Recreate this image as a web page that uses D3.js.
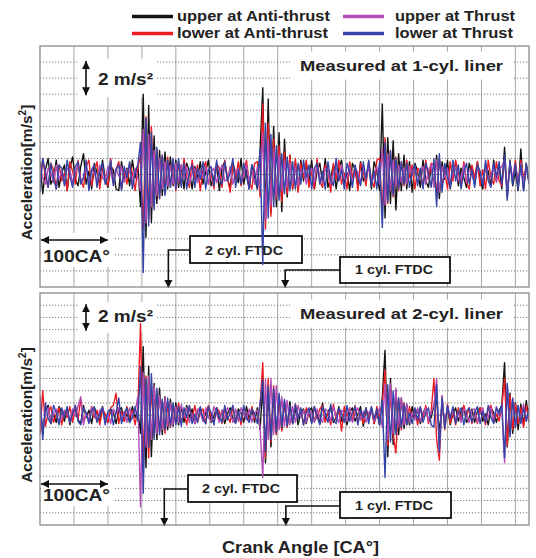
<!DOCTYPE html>
<html><head><meta charset="utf-8">
<script src="https://cdn.jsdelivr.net/npm/d3@7"></script>
<style>body{margin:0;background:#fff}svg{display:block}</style>
</head><body>
<script>
// ---------------- DATA ----------------
const crankAngleStep = 4;            // CA degrees between samples (0..720)
const xGridCA = [50,100,150,200,250,300,350,400,450,500,550,600,650,700];
const topGridY = [-6,-5,-4,-3,-2,-1,0,1,2,3,4,5,6,7];
const botGridY = [-8,-7,-6,-5,-4,-3,-2,-1,0,1,2,3,4,5,6,7,8,9];
const seriesNames = ["upper at Anti-thrust","lower at Anti-thrust","upper at Thrust","lower at Thrust"];
const seriesColors = ["#141414","#ec1c24","#b24cb6","#3444a8"];
const panelTitles = ["Measured at 1-cyl. liner","Measured at 2-cyl. liner"];
const ftdcLabels = ["2 cyl. FTDC","1 cyl. FTDC"];
const topFtdcCA = [189, 361];
const botFtdcCA = [183, 362];

// Panel 1 (measured at 1-cyl. liner), m/s^2
const top_upperAnti = [
0.8,-1.2,0.3,1.0,-0.6,-0.2,0.9,-0.8,0.1,0.6,-1.0,0.4,1.1,-0.3,-0.7,0.5,1.3,-0.6,0.2,-0.9,
0.7,0.1,-0.6,0.9,-0.2,-0.8,0.5,0.3,-0.9,-1.0,0.8,-0.3,0.4,-0.7,0.9,-0.2,0.6,-2.0,5.0,-3.9,
4.3,-3.0,2.4,-1.8,1.5,-1.3,1.4,-0.9,1.1,-0.7,0.9,-0.8,0.6,-0.9,0.7,0.2,-0.9,0.5,-0.3,0.8,
-0.6,0.2,0.9,-0.7,-0.2,0.6,-1.0,0.4,0.8,-0.3,-0.8,0.7,0.1,-0.5,1.0,-0.6,0.3,-0.9,0.6,-0.2,
-0.9,1.5,5.4,-2.8,4.7,-2.4,3.0,-2.0,2.6,-2.3,2.2,-1.4,1.2,-0.9,0.8,-1.0,0.9,-0.4,0.7,-0.4,
0.9,-0.9,0.2,0.7,-0.5,1.0,-0.8,-0.2,0.6,-0.9,0.4,0.9,-0.6,0.1,-1.0,0.7,0.3,-0.7,0.8,-0.4,
-0.1,0.6,-0.9,0.8,0.2,-1.0,4.4,-2.7,2.3,-1.8,2.1,-2.2,1.3,-1.0,1.2,-0.9,0.8,-1.1,0.7,0.2,
-0.8,0.9,-0.4,-0.8,0.6,-0.7,1.2,-1.5,0.8,-0.3,0.9,-0.9,0.2,0.6,-0.7,0.4,-0.2,-0.8,0.7,0.1,
-0.6,0.8,-0.3,-0.9,0.6,0.2,-0.7,0.9,-0.4,0.5,-0.9,1.7,-1.4,0.9,-0.7,0.2,-1.0,1.6,-1.0,0.7,
-0.6];
const top_lowerAnti = [
-0.5,1.0,-0.2,-0.8,0.7,0.3,-0.9,0.6,-0.4,0.1,-1.0,0.8,0.2,-0.6,0.9,-0.3,-0.8,0.5,0.9,-0.7,
0.2,0.8,-0.9,0.4,-0.1,-0.7,1.0,-0.5,0.3,0.8,-0.9,0.2,-0.6,0.7,0.1,-1.0,0.4,1.2,-3.4,3.6,
-2.8,3.0,-2.0,1.6,-1.5,1.2,-1.0,1.1,-0.8,0.9,-1.0,0.8,-0.7,1.0,-0.2,-0.8,0.9,-0.3,0.6,-1.0,
0.3,0.8,-0.6,0.1,-0.9,0.7,0.4,-0.8,0.9,-0.2,-1.1,0.6,-0.3,0.8,-0.7,0.2,0.9,-0.5,-0.9,0.7,
0.8,-1.4,4.4,-3.4,3.2,-2.6,2.2,-1.5,1.8,-1.7,1.4,-1.2,1.2,-0.9,1.0,-1.1,0.7,-0.2,0.9,-0.8,
0.3,-0.9,1.0,-0.4,-0.8,0.6,0.2,-1.1,0.7,-0.3,0.9,-0.6,0.1,-0.9,0.8,-0.2,0.5,-1.0,0.7,0.2,
-0.7,0.8,-0.3,-0.8,0.9,1.0,-2.5,2.3,-1.8,1.5,-1.4,1.1,-1.0,0.8,-0.7,0.9,-0.2,0.6,-0.9,0.4,
0.1,-0.8,0.9,-0.3,0.7,0.6,-1.2,1.0,-0.7,0.2,-0.9,0.8,-0.4,0.9,0.1,-0.7,0.8,-0.5,-0.9,0.6,
-0.2,0.8,-0.7,0.3,-0.9,0.9,-0.2,-0.6,0.8,-0.4,-0.7,1.0,-1.1,0.6,-0.3,0.9,-0.8,0.9,-0.2,0.5,
-0.4];
const top_upperThrust = [
0.5,-0.2,-0.6,0.4,0.1,-0.5,0.6,-0.3,0.2,-0.6,0.4,0.3,-0.5,0.1,0.6,-0.4,-0.2,0.5,-0.6,0.3,
0.1,-0.5,0.6,-0.2,-0.4,0.5,0.2,-0.6,0.4,-0.1,0.5,-0.5,0.3,0.2,-0.6,0.4,-0.2,-1.0,2.8,-3.0,
2.5,-2.0,1.5,-1.3,1.0,-0.9,0.8,-0.7,0.6,-0.6,0.7,-0.5,0.6,-0.2,0.5,-0.6,0.1,0.4,-0.5,0.3,
-0.2,0.5,-0.6,0.2,0.4,-0.5,0.1,0.6,-0.4,-0.3,0.5,-0.6,0.2,0.4,-0.5,-0.1,0.6,-0.4,0.3,-0.6,
0.5,-1.0,2.6,-2.8,2.2,-1.9,1.6,-1.4,1.2,-1.0,0.9,-0.8,0.7,-0.6,0.5,-0.7,0.2,0.5,-0.6,0.1,
0.4,-0.5,0.6,-0.2,-0.5,0.4,0.3,-0.6,0.1,0.5,-0.4,0.6,-0.3,-0.2,0.5,-0.6,0.4,0.1,-0.5,0.4,
-0.3,0.6,-0.5,0.1,0.5,-0.6,1.6,-1.9,1.3,-1.0,0.9,-0.7,0.6,-0.5,0.4,-0.6,0.5,-0.1,0.4,-0.5,
0.2,0.5,-0.6,0.3,0.6,-0.8,0.9,-1.1,0.5,-0.2,0.4,-0.6,0.1,0.5,-0.4,-0.2,0.6,-0.5,0.3,0.1,
-0.6,0.4,0.2,-0.5,0.6,-0.3,-0.1,0.6,-0.5,0.3,0.5,0.9,-1.0,0.6,-0.2,0.5,-0.6,0.7,-0.5,0.4,
-0.3];
const top_lowerThrust = [
-1.1,1.0,0.2,-0.8,0.7,-0.3,-0.9,0.6,0.4,-0.7,0.9,-0.1,-0.8,0.5,0.8,-0.6,-0.2,0.9,-1.0,0.3,
0.6,-0.8,0.2,0.7,-0.6,-0.1,0.9,-0.7,0.3,0.6,-1.0,0.5,-0.2,0.8,-0.9,0.1,0.6,2.0,-6.1,3.5,
-3.2,2.6,-2.2,1.7,-1.5,1.2,-1.3,0.9,-0.8,1.0,-0.9,1.0,-0.8,0.7,-0.9,0.2,0.6,-0.8,0.4,-0.3,
0.8,-0.9,0.3,0.5,-0.7,0.9,-0.2,-0.6,0.8,-0.4,0.1,1.0,-0.8,0.3,-0.6,0.7,-0.1,-0.9,0.6,0.2,
-0.8,1.6,-5.6,3.2,-2.7,2.5,-2.0,1.8,-1.6,1.3,-1.2,1.1,-1.0,0.8,-0.9,0.7,-0.6,0.9,-0.2,0.6,
-0.9,0.4,0.7,-0.6,0.2,-0.9,0.8,-0.3,-0.7,1.0,-0.4,0.3,-0.9,0.7,0.1,-0.8,0.6,-0.2,-0.7,0.8,
-0.3,0.9,-0.7,0.2,-0.9,0.8,-3.3,2.0,-1.7,1.5,-1.3,1.0,-0.9,0.8,-0.6,0.7,-0.8,0.2,0.6,-0.7,
0.4,-0.9,0.7,0.1,-0.8,1.0,-2.0,1.3,-1.1,0.7,-0.2,-0.8,0.9,-0.4,0.6,-0.9,0.2,0.7,-0.6,0.3,
-0.8,0.6,0.2,-0.7,0.9,-0.4,-0.8,0.7,-0.1,0.8,-0.6,1.2,-1.6,0.8,-0.6,0.7,-0.9,0.6,-1.0,0.7,
-0.5];

// Panel 2 (measured at 2-cyl. liner), m/s^2
const bot_upperAnti = [
1.2,-1.6,0.4,0.8,-0.7,0.1,-0.6,0.7,0.2,-0.5,0.6,-0.8,0.3,0.5,-0.4,-0.7,0.8,-0.2,0.4,-0.7,
0.6,0.1,-0.5,0.7,-0.3,-0.6,0.5,0.2,-0.7,0.4,0.6,-0.5,0.1,-0.6,0.7,-0.2,0.4,-1.5,5.6,-4.3,
4.0,-3.4,2.6,-2.0,2.2,-1.6,1.5,-1.2,1.3,-0.9,1.0,-0.8,0.7,-0.6,0.8,-0.2,0.5,-0.7,0.3,0.6,
-0.5,0.2,0.7,-0.6,-0.1,0.6,-0.5,0.4,-0.7,0.1,0.6,-0.4,-0.6,0.5,0.2,-0.6,0.7,-0.3,0.4,-0.6,
0.6,-1.2,2.4,-3.9,2.0,-2.6,1.8,-1.5,1.6,-1.2,1.0,-0.9,1.1,-0.7,0.6,-0.8,0.2,0.5,-0.7,0.3,
0.6,-0.5,0.1,-0.7,1.0,-0.4,0.3,0.6,-0.6,-0.2,0.7,-0.5,0.4,-0.8,0.2,0.6,-0.5,0.1,0.7,-0.9,
0.4,-0.3,0.6,-0.7,0.2,-0.8,1.5,5.3,-3.4,3.0,-2.4,2.0,-1.6,1.4,-1.1,0.9,-0.8,0.7,-0.3,0.5,
-0.7,0.2,0.6,-0.5,-0.2,0.8,1.2,-1.4,0.9,-0.7,0.6,-0.8,0.1,0.6,-0.5,0.3,0.7,-0.6,-0.2,0.5,
-0.6,0.3,0.6,-0.5,0.1,-0.8,0.6,0.2,-0.6,0.4,0.8,4.3,-2.6,1.8,-1.5,1.0,-1.2,0.9,-0.8,1.2,
-0.6];
const bot_lowerAnti = [
-1.6,2.0,-0.9,0.2,0.7,-0.6,0.1,0.6,-0.8,0.3,-0.2,0.7,-0.6,0.8,-0.3,1.3,-0.6,0.2,-0.5,0.7,
-0.2,0.4,-0.8,0.5,0.1,-0.6,0.6,0.8,1.8,-0.7,0.3,-0.5,0.7,-0.2,0.4,-0.8,0.5,7.5,-4.0,3.2,
-3.5,2.4,-1.8,2.0,-1.4,1.2,-1.5,0.9,-1.0,0.8,-0.7,1.0,-0.6,0.2,-0.8,0.7,-0.3,0.8,-0.6,0.2,
0.5,-0.7,0.8,-0.2,-0.6,0.6,0.3,-0.7,0.5,-0.1,-0.6,0.7,-0.5,0.2,-0.8,0.6,0.1,-0.5,0.7,-0.3,
-0.5,0.8,4.3,-3.5,3.0,-2.2,2.4,-1.6,1.4,-1.3,1.1,-1.0,0.8,-0.7,0.9,-0.2,0.5,-0.8,0.6,0.1,
-0.6,0.7,-0.3,0.5,0.8,-0.6,0.2,-0.8,0.9,-0.3,0.5,-1.3,0.7,-0.1,0.6,-0.5,0.8,-0.6,0.2,-0.7,
0.6,-0.3,0.5,-0.7,0.7,-0.2,0.9,3.7,-2.5,2.0,-1.6,-3.1,1.4,-1.2,1.0,-0.8,0.7,-0.2,0.5,-0.8,
0.6,-0.2,0.8,-0.7,0.3,3.0,-2.0,-3.7,1.5,-1.2,0.9,-0.7,0.2,-0.8,0.6,-0.4,0.8,-0.1,0.6,-0.7,
0.3,-0.7,0.6,0.2,-0.8,0.5,0.8,-0.6,0.1,-0.5,0.7,3.0,-2.5,1.6,-1.2,0.9,-0.7,0.6,-1.0,0.8,
-0.5];
const bot_upperThrust = [
1.0,-1.4,0.3,0.6,-0.5,0.1,0.5,-0.7,-0.2,0.4,0.3,-0.6,0.5,-0.1,0.7,1.5,-0.8,0.2,-0.5,0.6,
0.1,-0.5,0.4,0.6,-0.6,0.2,-0.7,0.5,0.1,0.6,-0.4,0.3,-0.6,0.6,-0.2,0.3,1.5,-7.5,3.5,-2.6,
3.2,-2.0,2.4,-1.5,1.6,-1.2,1.4,-0.9,1.0,-0.8,0.7,-0.6,0.9,-0.2,0.6,-0.6,0.1,-0.7,0.5,0.2,
-0.5,0.6,-0.2,-0.5,0.7,0.1,-0.6,0.4,-0.3,0.6,0.2,-0.6,0.5,-0.5,0.6,0.1,-0.4,0.5,-0.6,0.2,
0.4,-1.0,-5.1,2.9,-2.0,3.0,-1.6,2.4,-1.2,1.5,-0.9,1.2,-0.8,0.7,-0.6,0.8,-0.1,0.4,-0.6,0.5,
0.1,-0.6,0.5,-0.2,-0.6,0.5,0.3,-0.5,0.7,-0.1,-0.6,0.4,0.2,-0.5,0.6,-0.6,0.1,0.6,-0.4,0.3,
-0.6,0.2,0.5,-0.5,-0.1,0.6,-1.0,2.5,-2.0,2.6,-1.5,2.2,-1.0,1.4,-0.8,0.9,-0.6,0.2,-0.4,0.6,
-0.5,0.1,0.6,-0.5,0.2,0.8,3.0,-2.9,1.6,-1.0,0.7,-0.2,0.6,-0.5,0.3,-0.6,0.5,0.1,-0.6,0.4,
0.5,-0.6,0.2,0.6,-0.5,-0.2,0.6,-0.5,0.7,-0.1,0.6,-3.9,2.5,-1.6,1.3,-1.0,0.8,-0.6,0.9,-0.5,
0.4];
const bot_lowerThrust = [
1.6,-2.0,1.0,-0.3,-0.7,0.8,0.2,-0.8,0.6,-0.2,0.7,-0.6,0.1,0.8,-0.5,-0.8,0.6,0.2,-0.7,0.4,
0.7,-0.6,0.1,0.6,-0.8,0.3,0.5,-0.8,0.2,1.4,-0.7,0.1,0.6,-0.6,-0.2,0.7,-0.5,4.0,-6.4,3.0,
-2.6,3.4,-2.0,2.2,-1.6,1.3,-1.2,1.4,-0.9,1.0,-0.8,0.7,-0.9,0.6,-0.2,0.8,-0.7,0.1,-0.6,0.7,
-0.3,-0.7,0.7,0.2,-0.8,0.6,-0.1,-0.6,0.8,-0.4,0.2,0.8,-0.7,0.3,-0.5,0.8,-0.2,-0.6,0.5,0.1,
-0.7,0.9,2.9,-3.0,2.4,-2.0,2.2,-1.4,1.8,-1.0,1.3,-0.9,0.8,-0.7,0.9,-0.3,0.6,-0.8,0.2,0.6,
-0.7,0.7,-0.1,-0.8,0.7,0.2,-0.6,0.9,-0.4,-0.7,0.6,0.1,-0.6,0.8,-0.5,0.2,0.7,-0.8,0.4,-0.2,
0.6,-0.7,0.7,-0.3,0.5,-0.8,1.2,-5.1,2.5,-2.2,2.0,-1.6,1.4,-1.0,0.9,-0.8,0.2,-0.7,0.6,-0.4,
0.7,-0.6,0.2,0.6,-0.8,-1.0,2.5,-3.0,1.4,-1.1,0.8,-0.3,0.7,-0.7,0.2,0.6,-0.8,0.3,0.6,-0.6,
0.2,0.7,-0.7,0.3,-0.6,0.8,-0.2,-0.7,0.6,0.1,0.9,-3.5,2.6,-1.8,1.4,-1.0,0.8,-0.7,0.6,-0.5,
0.6];

// ---------------- DRAWING ----------------
const W = 536, H = 558;
const FONT = "'Liberation Sans', Arial, sans-serif";
const svg = d3.select("body").append("svg").attr("width", W).attr("height", H)
  .style("font-family", FONT);

const defs = svg.append("defs");
defs.append("marker").attr("id","ah").attr("viewBox","0 0 10 10")
  .attr("refX",10).attr("refY",5).attr("markerWidth",8).attr("markerHeight",9)
  .attr("markerUnits","userSpaceOnUse").attr("orient","auto-start-reverse")
  .append("path").attr("d","M0,0L10,5L0,10Z").attr("fill","#111");

const x = d3.scaleLinear().domain([0, 720]).range([40, 529]);

const panels = [
  { top: 46, bottom: 287, domain: [-7, 8], grid: topGridY, title: panelTitles[0], titleBase: 70.5,
    series: [top_upperAnti, top_lowerAnti, top_upperThrust, top_lowerThrust],
    scaleArrow: [5, 7], scaleTextBase: 85, caArrowY: 240, caTextBase: 262,
    ftdc: topFtdcCA,
    boxes: [{x0:190,x1:302,y0:236,y1:263,cy:250,tb:255,tx:205}, {x0:340,x1:450,y0:257,y1:283,cy:270,tb:273.5,tx:355}] },
  { top: 293, bottom: 525, domain: [-9, 10], grid: botGridY, title: panelTitles[1], titleBase: 318.5,
    series: [bot_upperAnti, bot_lowerAnti, bot_upperThrust, bot_lowerThrust],
    scaleArrow: [7, 9], scaleTextBase: 322, caArrowY: 484, caTextBase: 501,
    ftdc: botFtdcCA,
    boxes: [{x0:188,x1:297,y0:475,y1:502,cy:489,tb:493,tx:202}, {x0:340,x1:451,y0:492,y1:518,cy:506,tb:510,tx:355}] }
];

panels.forEach((p, pi) => {
  const y = d3.scaleLinear().domain(p.domain).range([p.bottom, p.top]);
  const g = svg.append("g");
  const clipId = "clip" + pi;
  defs.append("clipPath").attr("id", clipId).append("rect")
    .attr("x", x(0)).attr("y", p.top).attr("width", x(720) - x(0)).attr("height", p.bottom - p.top);

  g.append("rect").attr("x", x(0)).attr("y", p.top).attr("width", x(720) - x(0))
    .attr("height", p.bottom - p.top).attr("fill", "#fff");

  // grid
  g.selectAll(".vg").data(xGridCA).join("line")
    .attr("x1", d => x(d)).attr("x2", d => x(d)).attr("y1", p.top).attr("y2", p.bottom)
    .attr("stroke", "#a8a8a8").attr("stroke-width", 1);
  g.selectAll(".hg").data(p.grid).join("line")
    .attr("x1", x(0)).attr("x2", x(720)).attr("y1", d => y(d)).attr("y2", d => y(d))
    .attr("stroke", "#7a7a7a").attr("stroke-width", 1).attr("stroke-dasharray", "1.2,1.8");

  // white backgrounds for annotations
  g.append("rect").attr("x", 290).attr("y", p.titleBase - 19).attr("width", 224).attr("height", 28).attr("fill", "#fff");
  g.append("rect").attr("x", 79).attr("y", y(p.scaleArrow[1]) - 3).attr("width", 78)
    .attr("height", y(p.scaleArrow[0]) - y(p.scaleArrow[1]) + 6).attr("fill", "#fff");
  g.append("rect").attr("x", 41).attr("y", p.caArrowY - 7).attr("width", 72).attr("height", p.caTextBase - p.caArrowY + 12).attr("fill", "#fff");

  // FTDC boxes + connectors
  p.boxes.forEach((b, k) => {
    g.append("rect").attr("x", b.x0).attr("y", b.y0).attr("width", b.x1 - b.x0).attr("height", b.y1 - b.y0)
      .attr("fill", "#fff").attr("stroke", "#111").attr("stroke-width", 1.8);
    const xa = x(p.ftdc[k]);
    g.append("path").attr("d", `M${b.x0},${b.cy}H${xa}V${p.bottom + 1}`)
      .attr("fill", "none").attr("stroke", "#111").attr("stroke-width", 1.6).attr("marker-end", "url(#ah)");
  });

  // signals
  const line = d3.line().x((d, i) => x(i * crankAngleStep)).y(d => y(d));
  const sg = g.append("g").attr("clip-path", `url(#${clipId})`);
  p.series.forEach((s, k) => {
    sg.append("path").datum(s).attr("d", line).attr("fill", "none")
      .attr("stroke", seriesColors[k]).attr("stroke-width", 1.4).attr("stroke-linejoin", "round");
  });

  // FTDC texts
  p.boxes.forEach((b, k) => {
    g.append("text").attr("x", b.tx).attr("y", b.tb).attr("font-size", 12).attr("font-weight", "bold")
      .attr("fill", "#222").attr("textLength", 78).attr("lengthAdjust", "spacingAndGlyphs").text(ftdcLabels[k]);
  });

  // title
  g.append("text").attr("x", 300).attr("y", p.titleBase).attr("font-size", 15).attr("font-weight", "bold")
    .attr("fill", "#222").attr("textLength", 203).attr("lengthAdjust", "spacingAndGlyphs").text(p.title);

  // 2 m/s2 scale arrow
  g.append("line").attr("x1", 86).attr("x2", 86).attr("y1", y(p.scaleArrow[0]) + 1).attr("y2", y(p.scaleArrow[1]) - 1)
    .attr("stroke", "#111").attr("stroke-width", 1.6).attr("marker-start", "url(#ah)").attr("marker-end", "url(#ah)");
  g.append("text").attr("x", 98).attr("y", p.scaleTextBase).attr("font-size", 16).attr("font-weight", "bold")
    .attr("fill", "#222").attr("textLength", 55).attr("lengthAdjust", "spacingAndGlyphs").text("2 m/s²");

  // 100 CA arrow
  g.append("line").attr("x1", x(0) + 1).attr("x2", x(100)).attr("y1", p.caArrowY).attr("y2", p.caArrowY)
    .attr("stroke", "#111").attr("stroke-width", 1.6).attr("marker-start", "url(#ah)").attr("marker-end", "url(#ah)");
  g.append("text").attr("x", 43).attr("y", p.caTextBase).attr("font-size", 16).attr("font-weight", "bold")
    .attr("fill", "#222").attr("textLength", 67).attr("lengthAdjust", "spacingAndGlyphs").text("100CA°");

  // border
  g.append("rect").attr("x", x(0)).attr("y", p.top).attr("width", x(720) - x(0))
    .attr("height", p.bottom - p.top).attr("fill", "none").attr("stroke", "#8a8a8a").attr("stroke-width", 1.3);

  // y label
  const yl = svg.append("text").attr("transform", `translate(32,${(p.top + p.bottom) / 2 + 6}) rotate(-90)`)
    .attr("text-anchor", "middle").attr("font-size", 15.5).attr("font-weight", "bold").attr("fill", "#222");
  yl.append("tspan").text("Acceleration[m/s");
  yl.append("tspan").attr("dy", -6).attr("font-size", 10).text("2");
  yl.append("tspan").attr("dy", 6).text("]");
});

// legend
const legendPos = [[132, 177, 16.5, 20.5, 153], [132, 177, 33.5, 37.5, 151], [343, 395, 16.5, 20.5, 120], [343, 395, 33.5, 37.5, 118]];
seriesNames.forEach((name, k) => {
  const [sx, tx, sy, ty, tl] = legendPos[k];
  svg.append("line").attr("x1", sx).attr("x2", sx + 41).attr("y1", sy).attr("y2", sy)
    .attr("stroke", seriesColors[k]).attr("stroke-width", 3.5);
  svg.append("text").attr("x", tx).attr("y", ty).attr("font-size", 15.5).attr("font-weight", "bold")
    .attr("fill", "#222").attr("textLength", tl).attr("lengthAdjust", "spacingAndGlyphs").text(name);
});

// x label
svg.append("text").attr("x", 222).attr("y", 553).attr("font-size", 16).attr("font-weight", "bold")
  .attr("fill", "#222").attr("textLength", 157).attr("lengthAdjust", "spacingAndGlyphs").text("Crank Angle [CA°]");
</script>
</body></html>
